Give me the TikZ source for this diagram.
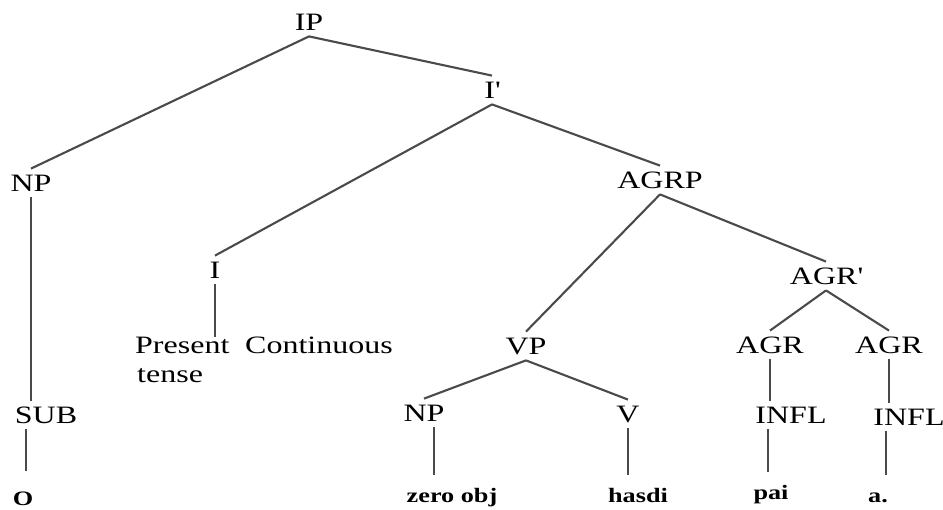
\documentclass[tikz,border=0pt]{standalone}
\usepackage{fontspec}
\setmainfont{Liberation Serif}[FakeStretch=1.28]
\usepackage{tikz}
\definecolor{branchgray}{HTML}{4A4A4A}
\tikzset{
  cat/.style    = {font=\fontsize{25}{27}\selectfont, text height=16.4pt,
                   text depth=0pt, inner xsep=2pt, inner ysep=6pt},
  txt/.style    = {font=\fontsize{25}{27}\selectfont, inner sep=0pt,
                   anchor=base west},
  leaf/.style   = {font=\fontsize{20.5}{22}\selectfont\bfseries, anchor=base,
                   text height=14pt, inner xsep=2pt, inner ysep=14pt},
  branch/.style = {line width=2.1pt, draw=branchgray},
}
\begin{document}
\begin{tikzpicture}[x=1pt, y=-1pt]
  \useasboundingbox (0,0) rectangle (943,510);

  % upper part
  \node[cat] (ip)     at (309,22)  {IP};
  \node[cat] (ibar)   at (492,90)  {I\textquotesingle};
  \node[cat] (np)     at (31,183)  {NP};
  \node[cat] (agrp)   at (660,180) {AGRP};
  \node[cat] (i)      at (215,270) {I};
  \node[cat] (agrbar) at (826,276) {AGR\textquotesingle};

  \node[txt] (pres)  at (135,354) {Present};
  \node[txt] (cont)  at (245,354) {Continuous};
  \node[txt] (tense) at (137,383) {tense};

  % lower part
  \node[cat] (vp)    at (526,346) {VP};
  \node[cat] (agra)  at (770,345) {AGR};
  \node[cat] (agrb)  at (889,345) {AGR};
  \node[cat] (sub)   at (46,415)  {SUB};
  \node[cat] (npo)   at (424,413) {NP};
  \node[cat] (v)     at (628,414) {V};
  \node[cat] (infla) at (791,415) {INFL};
  \node[cat] (inflb) at (909,417) {INFL};

  % words
  \node[leaf] (o)     at (23,505)  {O};
  \node[leaf] (zero)  at (452,503) {zero obj};
  \node[leaf] (hasdi) at (638,503) {hasdi};
  \node[leaf] (pai)   at (771,500) {pai};
  \node[leaf] (adot)  at (878,503) {a.};

  % branches
  \draw[branch] (ip.south) -- (np.north);
  \draw[branch] (ip.south) -- (ibar.north);
  \draw[branch] (ibar.south) -- (i.north);
  \draw[branch] (ibar.south) -- (agrp.north);
  \draw[branch] (agrp.south) -- (vp.north);
  \draw[branch] (agrp.south) -- (agrbar.north);
  \draw[branch] (agrbar.south) -- (agra.north);
  \draw[branch] (agrbar.south) -- (agrb.north);
  \draw[branch] (vp.south) -- (npo.north);
  \draw[branch] (vp.south) -- (v.north);

  \draw[branch] (np.south) -- (np.south |- sub.north);
  \draw[branch] ([xshift=3pt]o.north |- sub.south) -- ([xshift=3pt,yshift=6pt]o.north);
  \draw[branch] (i.south) -- (i.south |- pres.north);
  \draw[branch] ([xshift=10pt]npo.south) -- ([xshift=10pt]npo.south |- zero.north);
  \draw[branch] (v.south) -- (v.south |- hasdi.north);
  \draw[branch] (agra.south) -- (agra.south |- infla.north);
  \draw[branch] (agrb.south) -- (agrb.south |- inflb.north);
  \draw[branch] ([xshift=-3pt]pai.north |- infla.south) -- ([xshift=-3pt]pai.north);
  \draw[branch] ([xshift=8pt]adot.north |- inflb.south) -- ([xshift=8pt]adot.north);
\end{tikzpicture}
\end{document}
